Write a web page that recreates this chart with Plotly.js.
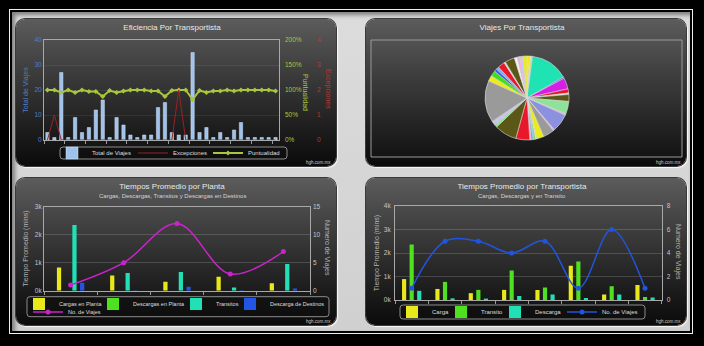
<!DOCTYPE html>
<html>
<head>
<meta charset="utf-8">
<script src="https://cdn.plot.ly/plotly-3.0.1.min.js"></script>
<style>
html,body{margin:0;padding:0;}
body{width:704px;height:346px;background:#000;position:relative;overflow:hidden;}
#frame{position:absolute;left:9px;top:9px;width:682px;height:323px;border:1px solid #efefef;}
#bg{position:absolute;left:12px;top:12px;width:678px;height:319px;background:linear-gradient(to bottom,#dcdcdc,#d0d0d0);box-shadow:inset 3px 3px 4px #7e7e7e;}
.panel{position:absolute;width:320px;height:147px;border-radius:9px;background:linear-gradient(to bottom,#5c5c5c 0%,#3b3b3b 38%,#1d1d1d 75%,#0b0b0b 100%);box-shadow:0 0 0 1px #3a3a3a,1px 1px 1px 1px rgba(255,255,255,0.85);}
.chart{position:absolute;left:0;top:0;width:320px;height:147px;}
</style>
</head>
<body>
<div id="frame"></div><div id="bg"></div>
<div class="panel" style="left:16px;top:19px;"><div id="c1" class="chart"></div></div>
<div class="panel" style="left:366px;top:19px;"><div id="c2" class="chart"></div></div>
<div class="panel" style="left:16px;top:178px;"><div id="c3" class="chart"></div></div>
<div class="panel" style="left:366px;top:178px;"><div id="c4" class="chart"></div></div>
<script>
// ---------- Chart 1: Eficiencia Por Transportista ----------
const transportistas = ['T01','T02','T03','T04','T05','T06','T07','T08','T09','T10','T11','T12','T13','T14','T15','T16','T17','T18','T19','T20','T21','T22','T23','T24','T25','T26','T27','T28','T29','T30','T31','T32','T33','T34'];
const totalViajes = [3,1,27,1,9,3,5,12,16,1,9,6,2,1,2,2,13,15,3,2,2,35,3,5,1,3,1,4,7,1,1,1,1,1];
const excepciones = [0,1,0,0,0,0,0,0,0,0,0,0,0,0,0,0,0,0,0,2,0,0,0,0,0,0,0,0,0,0,0,0,0,0];
const puntualidad = [100,100,95,100,95,100,97,97,87,99,95,98,100,100,100,98,98,87,99,100,100,81,99,95,98,98,100,98,100,100,100,100,100,98];
const viajesTicks = [0,10,20,30,40];
const puntualidadTicks = [0,50,100,150,200];
const puntualidadLabels = ['0%','50%','100%','150%','200%'];
const excepcionesTicks = [0,1,2,3,4];

// ---------- Chart 2: Viajes Por Transportista (pie) ----------
const pieLabels = ['P01','P02','P03','P04','P05','P06','P07','P08','P09','P10','P11','P12','P13','P14','P15','P16','P17','P18','P19','P20','P21','P22','P23','P24','P25','P26','P27','P28','P29','P30','P31','P32','P33','P34','P35','P36'];
const pieViajes = [2,1,1,27,1,8,3,1,5,9,1,13,1,8,5,1,1,1,1,1,10,16,2,3,30,4,4,2,2,5,1,7,2,2,2,3];
const pieColors = ['#eded12','#f3f3a8','#c5ee1e','#1fe3b3','#2a5df0','#d41fe6','#e8182a','#e6e6e6','#5b5716','#8fe29a','#f2a9ea','#8c91df','#f2a9ea','#9a9a9a','#eded12','#f3f3a8','#3fde1f','#22dede','#3c6cf5','#f2a9ea','#e8182a','#5b5716','#8fe29a','#c8c4f0','#9a9a9a','#eded12','#3fde1f','#2a5df0','#7fb0f5','#e8182a','#e6e6e6','#5b5716','#f4f4f4','#f2a9ea','#c8c4f0','#eded12'];

// ---------- Chart 3: Tiempos Promedio por Planta ----------
const plantas = ['Planta 1','Planta 2','Planta 3','Planta 4','Planta 5'];
const cargasPlanta = [830,540,320,500,270];
const descargasPlanta = [0,0,0,0,0];
const transitosPlanta = [2350,630,670,110,950];
const descargaDestinos = [280,20,140,15,80];
const viajesPlanta = [1,5,12,3,7];
const tiempoPlantaTicks = [0,1000,2000,3000];
const tiempoPlantaLabels = ['0k','1k','2k','3k'];
const viajesPlantaTicks = [0,5,10,15];

// ---------- Chart 4: Tiempos Promedio por Transportista ----------
const transportistasT = ['Transportista A','Transportista B','Transportista C','Transportista D','Transportista E','Transportista F','Transportista G','Transportista H'];
const cargaT = [890,470,290,430,430,1460,230,640];
const transitoT = [2360,770,430,1260,530,1640,590,130];
const descargaT = [390,70,60,170,230,90,230,110];
const viajesT = [1,5,5,4,5,1,6,1];
const tiempoTTicks = [0,1000,2000,3000,4000];
const tiempoTLabels = ['0k','1k','2k','3k','4k'];
const viajesTTicks = [0,2,4,6,8];

// ---------- helpers ----------
const W = 320, H = 147, M = 2;
const fx = px => (px - M) / (W - 2*M);
const fy = py => 1 - (py - M) / (H - 2*M);
const FONT = '"Liberation Sans", Arial, sans-serif';
const cfg = {displayModeBar:false, staticPlot:true};
const YEL='#e8e81a', GRN='#4fe01f', TEAL='#22e0b5', BLU='#2255e6';

function base(title){
  return {width:W,height:H,margin:{l:M,r:M,t:M,b:M,autoexpand:false},
    paper_bgcolor:'rgba(0,0,0,0)',plot_bgcolor:'rgba(0,0,0,0)',
    font:{family:FONT,size:6.5,color:'#c4c4c4'},
    title:{text:title, font:{family:FONT,size:8,color:'#e8e8e8'}, xref:'container', x:156/W, xanchor:'center', yref:'container', y:1-8/H, yanchor:'middle'},
    hovermode:false};
}
function subtitle(text){ return {text:text, xref:'paper', yref:'paper', x:fx(156), y:fy(17.7), xanchor:'center', yanchor:'middle', showarrow:false, font:{family:FONT,size:6,color:'#d4d4d4'}}; }
function credit(){ return {text:'hgh.com.mx', xref:'paper', yref:'paper', x:fx(317), y:fy(143), xanchor:'right', yanchor:'middle', showarrow:false, font:{family:FONT,size:4.5,color:'#cfcfcf'}}; }
function vTitle(text, px, py, color){ return {text:text, xref:'paper', yref:'paper', x:fx(px), y:fy(py), xanchor:'center', yanchor:'middle', textangle:90, showarrow:false, font:{family:FONT,size:7,color:color}}; }
function legBox(x0,x1,y0,y1){
  const r = 3, P = (px,py) => fx(px).toFixed(5)+','+fy(py).toFixed(5);
  const d = 'M'+P(x0+r,y0)+' L'+P(x1-r,y0)+' Q'+P(x1,y0)+' '+P(x1,y0+r)+' L'+P(x1,y1-r)+' Q'+P(x1,y1)+' '+P(x1-r,y1)+
            ' L'+P(x0+r,y1)+' Q'+P(x0,y1)+' '+P(x0,y1-r)+' L'+P(x0,y0+r)+' Q'+P(x0,y0)+' '+P(x0+r,y0)+' Z';
  return {type:'path', xref:'paper', yref:'paper', path:d, line:{color:'#8c8c8c',width:1}, fillcolor:'rgba(15,15,15,0.55)', layer:'below'};
}
function catAxis(x0,x1,n){ return {type:'category', domain:[fx(x0),fx(x1)], range:[-0.5,n-0.5], showticklabels:false, ticks:'outside', tickson:'boundaries', ticklen:3, tickcolor:'#9a9a9a', showline:true, linecolor:'#a8a8a8', linewidth:1, mirror:true, showgrid:false, zeroline:false}; }
function leg(px, py, size){ return {orientation:'h', x:fx(px), xanchor:'left', y:fy(py), yanchor:'middle', font:{family:FONT,size:size||6,color:'#dedede'}, bgcolor:'rgba(0,0,0,0)', borderwidth:0, itemwidth:30, traceorder:'normal'}; }

// ---------- Chart 1 ----------
const L1 = base('Eficiencia Por Transportista');
Object.assign(L1, {
  barmode:'group', bargap:0.52,
  xaxis: catAxis(28,263,transportistas.length),
  yaxis:{domain:[fy(121),fy(21)], range:[0,40], tickvals:viajesTicks, tickfont:{color:'#4f7fc2',size:6.5},
    showline:true, linecolor:'#a8a8a8', mirror:true, gridcolor:'rgba(255,255,255,0.07)', zeroline:false,
    title:{text:'Total de Viajes', font:{color:'#4f7fc2',size:7}, standoff:5}},
  yaxis2:{overlaying:'y', side:'right', anchor:'x', range:[0,200], tickvals:puntualidadTicks, ticktext:puntualidadLabels, ticklabelstandoff:5,
    tickfont:{color:'#a8c63e',size:6.5}, showgrid:false, zeroline:false, showline:false},
  yaxis3:{overlaying:'y', side:'right', anchor:'free', position:fx(300), range:[0,4], tickvals:excepcionesTicks,
    tickfont:{color:'#b83a35',size:6.5}, showgrid:false, zeroline:false, showline:false},
  legend: leg(36,134),
  shapes:[legBox(44,271,128,140)],
  annotations:[vTitle('Puntualidad',290,73,'#a8c63e'), vTitle('Excepciones',312,70,'#b83a35'), credit()]
});
Plotly.newPlot('c1', [
  {type:'bar', name:'Total de Viajes', x:transportistas, y:totalViajes, marker:{color:'#9fc2ec', line:{color:'#d6e5f7', width:0.5}}, legendwidth:36},
  {type:'scatter', mode:'lines', name:'Excepciones', x:transportistas, y:excepciones, yaxis:'y3', line:{color:'#9a2222', width:1}, legendwidth:30},
  {type:'scatter', mode:'lines+markers', name:'Puntualidad', x:transportistas, y:puntualidad, yaxis:'y2', line:{color:'#a8c63e', width:2}, marker:{symbol:'diamond', size:4, color:'#a8c63e'}}
], L1, cfg);

// ---------- Chart 2 ----------
const L2 = base('Viajes Por Transportista');
L2.showlegend = false;
L2.shapes = [{type:'rect', xref:'paper', yref:'paper', x0:fx(5), x1:fx(316), y0:fy(138), y1:fy(21), line:{color:'#9a9a9a',width:1}, fillcolor:'rgba(255,255,255,0.02)', layer:'below'}];
L2.annotations = [credit()];
Plotly.newPlot('c2', [
  {type:'pie', labels:pieLabels, values:pieViajes, sort:false, direction:'clockwise', rotation:0, textinfo:'none',
   marker:{colors:pieColors, line:{color:'#dcdcdc', width:0.6}}, domain:{x:[fx(119),fx(203)], y:[fy(121),fy(37)]}}
], L2, cfg);

// ---------- Chart 3 ----------
const L3 = base('Tiempos Promedio por Planta');
Object.assign(L3, {
  barmode:'group', bargap:0.42, bargroupgap:0.45,
  xaxis: catAxis(28,294,plantas.length),
  yaxis:{domain:[fy(112.7),fy(28.7)], range:[0,3000], tickvals:tiempoPlantaTicks, ticktext:tiempoPlantaLabels,
    gridcolor:'rgba(255,255,255,0.16)', showline:true, mirror:true, linecolor:'#a8a8a8', zeroline:false,
    title:{text:'Tiempo Promedio (mins)', font:{color:'#b4b4b4',size:7}, standoff:5}},
  yaxis2:{overlaying:'y', side:'right', anchor:'x', range:[0,15], tickvals:viajesPlantaTicks, ticklabelstandoff:2, showgrid:false, zeroline:false, showline:false},
  legend: leg(3,126,5.5),
  legend2: leg(12,134,5.5),
  shapes:[legBox(11,313,118.7,138.7)],
  annotations:[subtitle('Cargas, Descargas, Transitos y Descargas en Destinos'), vTitle('Numero de Viajes',311,70,'#b4b4b4'), credit()]
});
Plotly.newPlot('c3', [
  {type:'bar', name:'Cargas en Planta', x:plantas, y:cargasPlanta, marker:{color:YEL}, legendwidth:29},
  {type:'bar', name:'Descargas en Planta', x:plantas, y:descargasPlanta, marker:{color:GRN}, legendwidth:38},
  {type:'bar', name:'Transitos', x:plantas, y:transitosPlanta, marker:{color:TEAL}, legendwidth:9},
  {type:'bar', name:'Descarga de Destinos', x:plantas, y:descargaDestinos, marker:{color:BLU}},
  {type:'scatter', mode:'lines+markers', name:'No. de Viajes', x:plantas, y:viajesPlanta, yaxis:'y2', legend:'legend2',
   line:{color:'#cc22cc', width:1.5, shape:'spline'}, marker:{color:'#cc22cc', size:5}}
], L3, cfg);

// ---------- Chart 4 ----------
const L4 = base('Tiempos Promedio por Transportista');
Object.assign(L4, {
  barmode:'group', bargap:0.32, bargroupgap:0.45,
  xaxis: catAxis(29,295.7,transportistasT.length),
  yaxis:{domain:[fy(122),fy(28)], range:[0,4000], tickvals:tiempoTTicks, ticktext:tiempoTLabels, ticklabelstandoff:2,
    gridcolor:'rgba(255,255,255,0.16)', showline:true, mirror:true, linecolor:'#a8a8a8', zeroline:false,
    title:{text:'Tiempo Promedio (mins)', font:{color:'#b4b4b4',size:7}, standoff:3}},
  yaxis2:{overlaying:'y', side:'right', anchor:'x', range:[0,8], tickvals:viajesTTicks, ticklabelstandoff:4, showgrid:false, zeroline:false, showline:false},
  legend: leg(26,134),
  shapes:[legBox(34,279,127,141)],
  annotations:[subtitle('Cargas, Descargas y en Transito'), vTitle('Numero de Viajes',312,74,'#b4b4b4'), credit()]
});
Plotly.newPlot('c4', [
  {type:'bar', name:'Carga', x:transportistasT, y:cargaT, marker:{color:YEL}, legendwidth:4},
  {type:'bar', name:'Transito', x:transportistasT, y:transitoT, marker:{color:GRN}, legendwidth:9},
  {type:'bar', name:'Descarga', x:transportistasT, y:descargaT, marker:{color:TEAL}, legendwidth:22},
  {type:'scatter', mode:'lines+markers', name:'No. de Viajes', x:transportistasT, y:viajesT, yaxis:'y2',
   line:{color:'#2255dd', width:1.5, shape:'spline'}, marker:{color:'#2255dd', size:5}}
], L4, cfg);
</script>
</body>
</html>
